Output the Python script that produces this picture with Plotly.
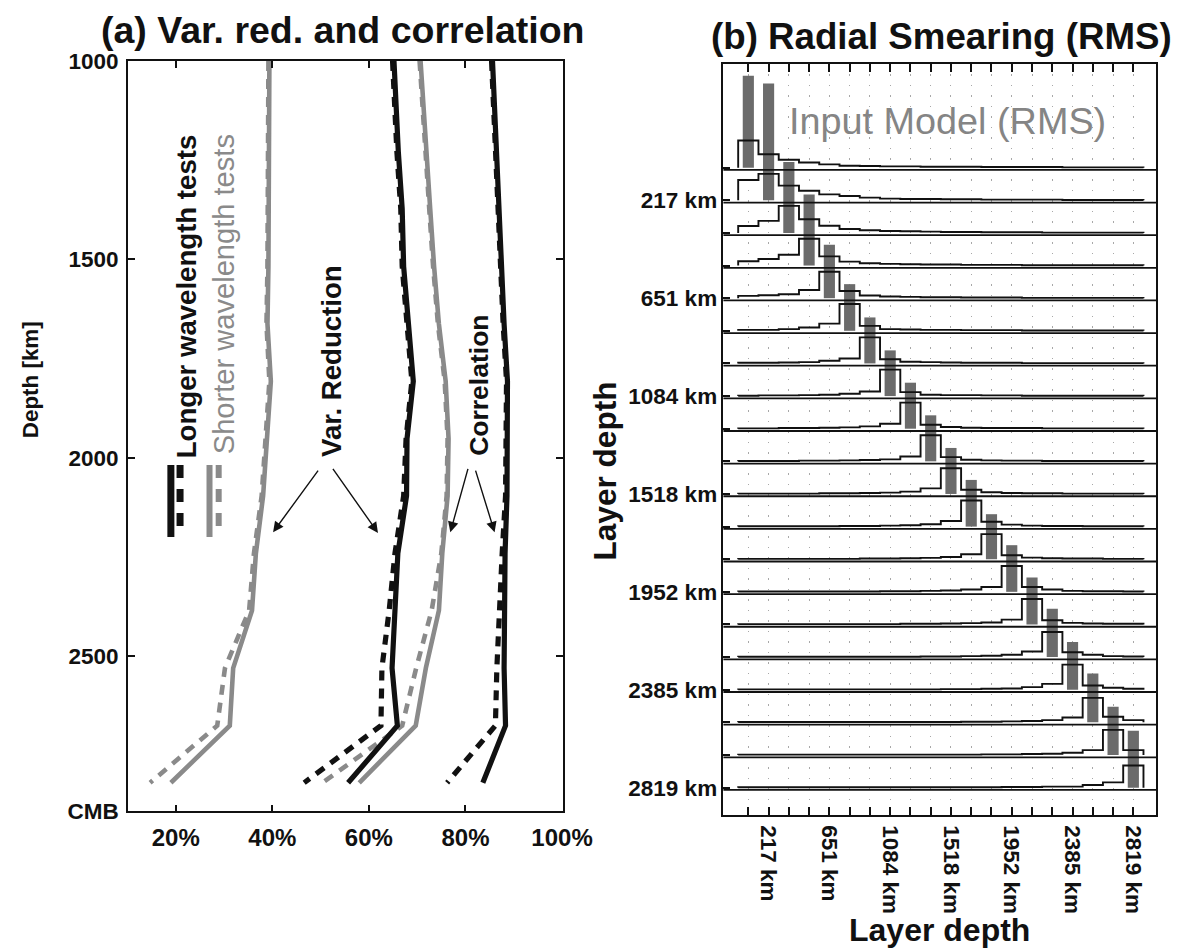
import plotly.graph_objects as go

FONT = "Liberation Sans, Arial, Helvetica, sans-serif"
# The photographed page shows the figure at scale S with a small top offset;
# positions below are given in target-picture pixels and mapped back.
S = 0.976
OFF_X, OFF_Y = 0.0, 12.0
FW, FH = 1209, 961

# ---------------- Panel (a) data ----------------
depth_km = [1000, 1084, 1229, 1373, 1518, 1663, 1807, 1952, 2096, 2241, 2385, 2530, 2675, 2819]
vr_long_solid = [65.2, 65.5, 66.1, 66.9, 67.2, 68.2, 69.2, 67.9, 67.8, 66.0, 65.4, 64.8, 65.9, 55.7]
vr_long_dash = [64.9, 65.2, 65.8, 66.6, 66.9, 67.9, 68.9, 67.7, 67.2, 65.4, 64.2, 62.7, 62.5, 46.6]
vr_short_solid = [39.4, 39.4, 39.3, 39.3, 39.2, 39.0, 39.7, 38.9, 38.1, 36.6, 35.8, 31.9, 31.2, 19.0]
vr_short_dash = [39.2, 39.2, 39.1, 39.1, 39.0, 38.8, 39.4, 38.6, 37.8, 36.2, 35.2, 30.2, 28.6, 14.7]
corr_long_solid = [85.6, 85.9, 86.3, 86.9, 87.5, 88.0, 88.7, 88.7, 88.6, 88.2, 88.0, 88.0, 88.3, 83.6]
corr_long_dash = [85.4, 85.7, 86.1, 86.7, 87.3, 87.8, 88.5, 88.5, 88.3, 87.6, 87.0, 86.5, 86.2, 76.2]
corr_short_solid = [70.7, 71.1, 71.8, 72.7, 73.5, 74.5, 75.9, 76.5, 76.3, 75.2, 74.5, 71.8, 69.7, 58.0]
corr_short_dash = [70.5, 70.9, 71.6, 72.5, 73.3, 74.3, 75.7, 76.3, 76.1, 75.0, 73.0, 69.8, 66.9, 50.4]

a_xticks = [20, 40, 60, 80, 100]
a_xticklabels = ["20%", "40%", "60%", "80%", "100%"]
a_yticks = [1000, 1500, 2000, 2500, 2891]
a_yticklabels = ["1000", "1500", "2000", "2500", "CMB"]

# ---------------- Panel (b) data ----------------
layer_idx = list(range(20))
layer_labels = ["", "217 km", "", "", "651 km", "", "", "1084 km", "", "", "1518 km",
                "", "", "1952 km", "", "", "2385 km", "", "", "2819 km"]
input_rms = [2.82, 3.58, 2.17, 2.18, 1.64, 1.43, 1.41, 1.40, 1.41, 1.41,
             1.41, 1.43, 1.38, 1.43, 1.44, 1.48, 1.46, 1.50, 1.48, 1.74]
smearing = [
    [0.83, 0.41, 0.24, 0.16, 0.10, 0.06, 0.05, 0.04, 0.04, 0.03, 0.03, 0.03, 0.02, 0.02, 0.02, 0.02, 0.01, 0.01, 0.01, 0.01],
    [0.62, 0.81, 0.45, 0.29, 0.18, 0.13, 0.08, 0.05, 0.04, 0.04, 0.03, 0.03, 0.02, 0.02, 0.02, 0.02, 0.01, 0.01, 0.01, 0.01],
    [0.21, 0.37, 0.83, 0.42, 0.22, 0.12, 0.08, 0.06, 0.05, 0.04, 0.03, 0.03, 0.02, 0.02, 0.02, 0.01, 0.01, 0.01, 0.01, 0.01],
    [0.13, 0.20, 0.33, 0.82, 0.28, 0.12, 0.07, 0.05, 0.04, 0.03, 0.03, 0.02, 0.02, 0.02, 0.01, 0.01, 0.01, 0.01, 0.01, 0.01],
    [0.07, 0.09, 0.12, 0.25, 0.81, 0.22, 0.08, 0.05, 0.04, 0.03, 0.03, 0.02, 0.02, 0.02, 0.01, 0.01, 0.01, 0.01, 0.01, 0.01],
    [0.03, 0.03, 0.05, 0.10, 0.22, 0.82, 0.15, 0.05, 0.04, 0.03, 0.03, 0.02, 0.02, 0.02, 0.01, 0.01, 0.01, 0.01, 0.01, 0.01],
    [0.02, 0.02, 0.03, 0.04, 0.08, 0.15, 0.80, 0.13, 0.05, 0.04, 0.03, 0.02, 0.02, 0.02, 0.01, 0.01, 0.01, 0.01, 0.01, 0.01],
    [0.01, 0.02, 0.02, 0.03, 0.04, 0.07, 0.14, 0.81, 0.12, 0.04, 0.03, 0.03, 0.02, 0.02, 0.01, 0.01, 0.01, 0.01, 0.01, 0.01],
    [0.01, 0.01, 0.02, 0.02, 0.03, 0.04, 0.07, 0.15, 0.80, 0.12, 0.05, 0.03, 0.02, 0.02, 0.02, 0.01, 0.01, 0.01, 0.01, 0.01],
    [0.01, 0.01, 0.01, 0.02, 0.02, 0.03, 0.04, 0.06, 0.15, 0.80, 0.13, 0.05, 0.03, 0.02, 0.02, 0.01, 0.01, 0.01, 0.01, 0.01],
    [0.01, 0.01, 0.01, 0.01, 0.02, 0.02, 0.03, 0.04, 0.07, 0.17, 0.79, 0.13, 0.05, 0.03, 0.02, 0.02, 0.01, 0.01, 0.01, 0.01],
    [0.01, 0.01, 0.01, 0.01, 0.01, 0.02, 0.02, 0.03, 0.04, 0.07, 0.17, 0.80, 0.15, 0.06, 0.03, 0.02, 0.02, 0.01, 0.01, 0.01],
    [0.01, 0.01, 0.01, 0.01, 0.01, 0.01, 0.02, 0.02, 0.03, 0.04, 0.07, 0.15, 0.77, 0.12, 0.05, 0.03, 0.02, 0.02, 0.01, 0.01],
    [0.01, 0.01, 0.01, 0.01, 0.01, 0.01, 0.01, 0.02, 0.02, 0.03, 0.04, 0.07, 0.15, 0.79, 0.15, 0.07, 0.03, 0.02, 0.02, 0.01],
    [0.01, 0.01, 0.01, 0.01, 0.01, 0.01, 0.01, 0.01, 0.02, 0.02, 0.03, 0.04, 0.06, 0.15, 0.78, 0.13, 0.05, 0.03, 0.02, 0.02],
    [0.01, 0.01, 0.01, 0.01, 0.01, 0.01, 0.01, 0.01, 0.01, 0.02, 0.02, 0.03, 0.04, 0.07, 0.17, 0.77, 0.15, 0.07, 0.03, 0.02],
    [0.01, 0.01, 0.01, 0.01, 0.01, 0.01, 0.01, 0.01, 0.01, 0.01, 0.02, 0.02, 0.03, 0.04, 0.08, 0.18, 0.77, 0.13, 0.06, 0.03],
    [0.01, 0.01, 0.01, 0.01, 0.01, 0.01, 0.01, 0.01, 0.01, 0.01, 0.01, 0.02, 0.02, 0.03, 0.04, 0.07, 0.15, 0.75, 0.17, 0.07],
    [0.01, 0.01, 0.01, 0.01, 0.01, 0.01, 0.01, 0.01, 0.01, 0.01, 0.01, 0.01, 0.02, 0.02, 0.03, 0.04, 0.07, 0.15, 0.77, 0.15],
    [0.01, 0.01, 0.01, 0.01, 0.01, 0.01, 0.01, 0.01, 0.01, 0.01, 0.01, 0.01, 0.01, 0.02, 0.02, 0.03, 0.03, 0.08, 0.16, 0.68],
]

BLACK = "#111111"
GRAY = "#8a8a8a"


def px(x):
    return ((x - OFF_X) / S) / FW


def py(y):
    return 1 - ((y - OFF_Y) / S) / FH


fig = go.Figure()


def add_curve(xv, color, width, dash):
    fig.add_trace(go.Scatter(x=xv, y=depth_km, mode="lines",
                             line=dict(color=color, width=width, dash=dash),
                             xaxis="x", yaxis="y", showlegend=False, hoverinfo="skip"))


DASH = "10px,8px"
add_curve(vr_short_solid, GRAY, 4.6, "solid")
add_curve(vr_short_dash, GRAY, 4.6, DASH)
add_curve(corr_short_solid, GRAY, 4.6, "solid")
add_curve(corr_short_dash, GRAY, 4.6, DASH)
add_curve(vr_long_dash, BLACK, 5.2, DASH)
add_curve(vr_long_solid, BLACK, 5.2, "solid")
add_curve(corr_long_dash, BLACK, 5.2, DASH)
add_curve(corr_long_solid, BLACK, 5.2, "solid")

# Panel (b): input model bars
fig.add_trace(go.Bar(x=layer_idx, y=input_rms, base=[-i for i in layer_idx], width=0.55,
                     marker=dict(color="#6b6b6b", line=dict(width=0)),
                     xaxis="x2", yaxis="y2", showlegend=False, hoverinfo="skip"))

# Panel (b): smearing step outlines
for i, row in enumerate(smearing):
    base = -i
    xs = [-0.5] + [j - 0.5 for j in layer_idx] + [layer_idx[-1] + 0.5]
    ys = [base] + [base + v for v in row] + [base]
    fig.add_trace(go.Scatter(x=xs, y=ys, mode="lines", line=dict(color=BLACK, width=1.9, shape="hv"),
                             xaxis="x2", yaxis="y2", showlegend=False, hoverinfo="skip"))

shapes = []
for i in layer_idx:
    shapes.append(dict(type="line", xref="x2 domain", yref="y2", x0=0, x1=1,
                       y0=-i - 0.07, y1=-i - 0.07, line=dict(color=BLACK, width=1.8)))

# legend marks in panel (a)
leg_top, leg_bot = 2018, 2200
for xv, color, dash, w in [(19.0, BLACK, "solid", 7), (20.9, BLACK, "13px,11px", 7),
                           (27.0, GRAY, "solid", 6), (28.9, GRAY, "13px,11px", 6)]:
    shapes.append(dict(type="line", xref="x", yref="y", x0=xv, x1=xv, y0=leg_top, y1=leg_bot,
                       line=dict(color=color, width=w, dash=dash)))

ann = []


def text(t, x, y, size, bold=True, angle=0, color=BLACK):
    ann.append(dict(text=t, x=px(x), y=py(y), xref="paper", yref="paper", showarrow=False,
                    xanchor="center", yanchor="middle", textangle=angle,
                    font=dict(family=FONT, size=size, color=color, weight="bold" if bold else "normal")))


text("(a) Var. red. and correlation", 343, 30, 37.5)
text("(b) Radial Smearing (RMS)", 942, 37, 36.7)
text("Depth [km]", 30, 380, 22.4, angle=-90)
text("Layer depth", 606, 472, 31.6, angle=-90)
text("Layer depth", 940, 932, 32)
text("Input Model (RMS)", 948, 121, 37.8, bold=False, color="#858585")
text("Longer wavelength tests", 187, 297, 27.6, angle=-90)
text("Shorter wavelength tests", 225, 295, 29.1, bold=False, angle=-90, color=GRAY)
text("Var. Reduction", 332, 362, 27.6, angle=-90)
text("Correlation", 480, 386, 26.5, angle=-90)

for hx, hy, tx, ty in [(273.3, 533.3, 318.3, 471.7), (378.3, 534, 333.3, 470),
                       (450.7, 533.3, 468.3, 470), (495, 533.3, 476, 471.7)]:
    ann.append(dict(text="", x=px(hx), y=py(hy), xref="paper", yref="paper", showarrow=True,
                    ax=(tx - hx) / S, ay=(ty - hy) / S, axref="pixel", ayref="pixel",
                    arrowhead=2, arrowsize=1.5, arrowwidth=1.4, arrowcolor=BLACK))

tickfont_ax = dict(family=FONT, size=24, color=BLACK, weight="bold")
tickfont_ay = dict(family=FONT, size=22.5, color=BLACK, weight="bold")
tickfont_b = dict(family=FONT, size=22.5, color=BLACK, weight="bold")
axis_common = dict(showline=True, linecolor=BLACK, linewidth=1.5, ticks="inside",
                   tickcolor=BLACK, tickwidth=1.5, zeroline=False)

fig.update_layout(
    width=FW, height=FH, margin=dict(l=0, r=0, t=0, b=0),
    paper_bgcolor="white", plot_bgcolor="white", showlegend=False,
    font=dict(family=FONT, color=BLACK),
    xaxis=dict(domain=[px(128), px(563)], range=[10.1, 100.1], tickvals=a_xticks, ticktext=a_xticklabels,
               ticklen=7, mirror="ticks", showgrid=False, tickfont=tickfont_ax, ticklabelstandoff=4,
               anchor="y", **axis_common),
    yaxis=dict(domain=[py(813), py(61)], range=[2891, 1000], tickvals=a_yticks, ticktext=a_yticklabels,
               ticklen=7, mirror="ticks", showgrid=False, tickfont=tickfont_ay, ticklabelstandoff=3,
               anchor="x", **axis_common),
    xaxis2=dict(domain=[px(724), px(1157)], range=[-1.23, 20.12], tickvals=layer_idx, ticktext=layer_labels,
                tickangle=90, ticklen=8, mirror="ticks", showgrid=True, gridcolor="#a8a8a8", gridwidth=1.3,
                griddash="1.5px,9px", tickfont=tickfont_b, ticklabelstandoff=4, anchor="y2", **axis_common),
    yaxis2=dict(domain=[py(816.7), py(64)], range=[-19.84, 3.18], tickvals=[-i for i in layer_idx],
                ticktext=layer_labels, ticklen=7, mirror=True, showgrid=False, tickfont=tickfont_b,
                anchor="x2", **axis_common),
    shapes=shapes, annotations=ann,
)

fig.write_html("out.html")
